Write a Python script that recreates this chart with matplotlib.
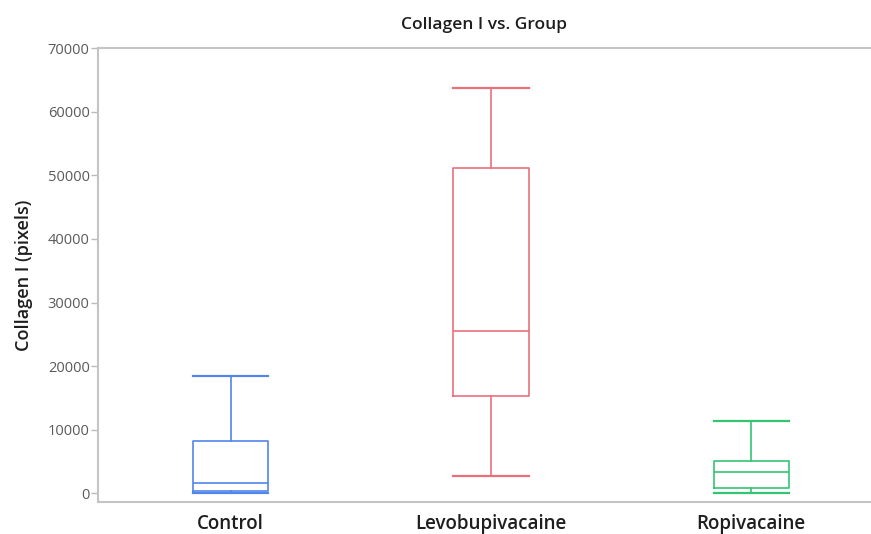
import matplotlib
matplotlib.use("Agg")
import matplotlib.pyplot as plt

plt.rcParams['font.family'] = ['Open Sans', 'DejaVu Sans']

# data
groups = ['Control', 'Levobupivacaine', 'Ropivacaine']
whislo = [50, 2700, 100]
q1 = [300, 15300, 900]
med = [1700, 25500, 3300]
q3 = [8200, 51200, 5100]
whishi = [18500, 63800, 11400]
colors = ['#5286ea', '#ea6f7c', '#34c474']
yticks = [0, 10000, 20000, 30000, 40000, 50000, 60000, 70000]


def make_stats():
    stats = []
    for i, g in enumerate(groups):
        stats.append({
            'label': g,
            'whislo': whislo[i],
            'q1': q1[i],
            'med': med[i],
            'q3': q3[i],
            'whishi': whishi[i],
            'fliers': [],
        })
    return stats


fig = plt.figure(figsize=(8.71, 5.34), dpi=100)
ax = fig.add_axes([0.1125, 0.06, 0.8875, 0.85])

stats = make_stats()
for i, s in enumerate(stats):
    c = colors[i]
    ax.bxp([s], positions=[i], widths=0.29, showfliers=False,
           boxprops=dict(color=c, linewidth=1.2),
           medianprops=dict(color=c, linewidth=1.2),
           whiskerprops=dict(color=c, linewidth=1.2),
           capprops=dict(color=c, linewidth=1.6),
           capwidths=0.29)

ax.set_xlim(-0.51, 2.46)
ax.set_ylim(-1350, 70000)
ax.set_yticks(yticks)
ax.set_yticklabels([str(t) for t in yticks], fontsize=10.5, color='#5a5a5a')
ax.set_xticks(range(len(groups)))
ax.set_xticklabels(groups, fontsize=13.5, color='#1e1e1e', fontweight='semibold')
ax.tick_params(axis='x', length=0, pad=9)
ax.tick_params(axis='y', length=5, width=1, color='#bbbbbb', pad=1)

for side in ['top', 'bottom', 'left']:
    ax.spines[side].set_color('#c4c4c4')
    ax.spines[side].set_linewidth(1.5)
ax.spines['right'].set_visible(False)

fig.text(24 / 871, 0.5 * (0.06 + 0.91), 'Collagen I (pixels)', rotation=90,
         ha='center', va='center', fontsize=13, color='#1e1e1e',
         fontweight='semibold')
ax.set_title('Collagen I vs. Group', fontsize=12.5, color='#1e1e1e',
             fontweight='semibold', pad=14)

fig.savefig('out.png', dpi=100)
